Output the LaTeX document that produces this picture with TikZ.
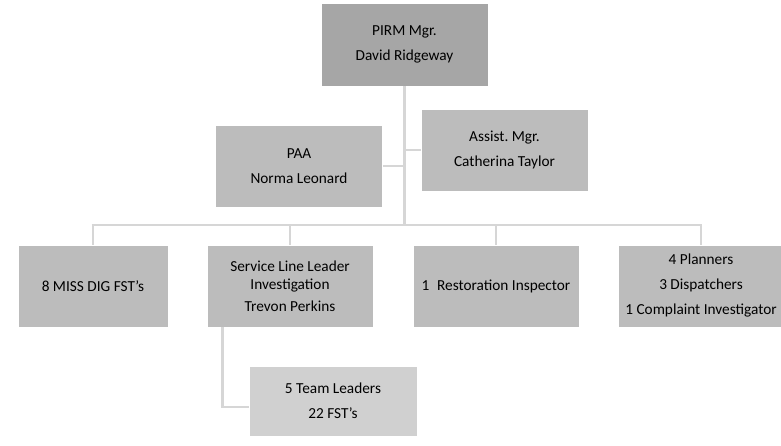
\documentclass[tikz,border=0pt]{standalone}
\usepackage{fontspec}
\setmainfont{Carlito}
\frenchspacing
\definecolor{boxA}{HTML}{A6A6A6}
\definecolor{boxB}{HTML}{BCBCBC}
\definecolor{boxC}{HTML}{D0D0D0}
\definecolor{linec}{HTML}{D6D6D6}
\begin{document}
\begin{tikzpicture}[x=1pt,y=-1pt,
  orgbox/.style={draw=white,line width=0.8pt,inner sep=2pt,align=center,
    font=\fontsize{15.3}{18}\selectfont},
  conn/.style={draw=linec,line width=2.8pt}]
\useasboundingbox (0,0) rectangle (781,446);
\fill[white] (0,0) rectangle (781,446);
% nodes
\node[orgbox,fill=boxA,minimum width=167pt,minimum height=83pt] (pirm) at (404.5,44.5) {PIRM Mgr.\\[7pt]David Ridgeway};
\node[orgbox,fill=boxB,minimum width=167pt,minimum height=82pt] (paa) at (299,166) {PAA\\[7pt]Norma Leonard};
\node[orgbox,fill=boxB,minimum width=167pt,minimum height=82pt] (asst) at (504.5,150) {Assist. Mgr.\\[7pt]Catherina Taylor};
\node[orgbox,fill=boxB,minimum width=150pt,minimum height=82pt] (b1) at (93,286) {8 MISS DIG FST’s};
\node[orgbox,fill=boxB,minimum width=166pt,minimum height=82pt] (b2) at (290,286) {Service Line Leader\\Investigation\\[4pt]Trevon Perkins};
\node[orgbox,fill=boxB,minimum width=166pt,minimum height=82pt] (b3) at (496,286) {1\enspace Restoration Inspector};
\node[orgbox,fill=boxB,minimum width=166pt,minimum height=82pt] (b4) at (701,286) {4 Planners\\[7pt]3 Dispatchers\\[7pt]1 Complaint Investigator};
\node[orgbox,fill=boxC,minimum width=168pt,minimum height=70pt] (tl) at (333,401) {5 Team Leaders\\[7pt]22 FST’s};
% connectors
\coordinate (hl) at (93,225);
\coordinate (hr) at (701,225);
\draw[conn] (pirm.south) -- (pirm.south |- hl);
\draw[conn] (paa.east) -- (paa.east -| pirm.south);
\draw[conn] (asst.west) -- (asst.west -| pirm.south);
\draw[conn] ([xshift=-1.4pt]hl) -- ([xshift=1.4pt]hr);
\draw[conn] (hl) -- (b1.north);
\draw[conn] (b2.north |- hl) -- (b2.north);
\draw[conn] (b3.north |- hl) -- (b3.north);
\draw[conn] (hr) -- (b4.north);
\draw[conn] ([xshift=16pt]b2.south west) |- ([yshift=-6pt]tl.west);
\end{tikzpicture}
\end{document}
